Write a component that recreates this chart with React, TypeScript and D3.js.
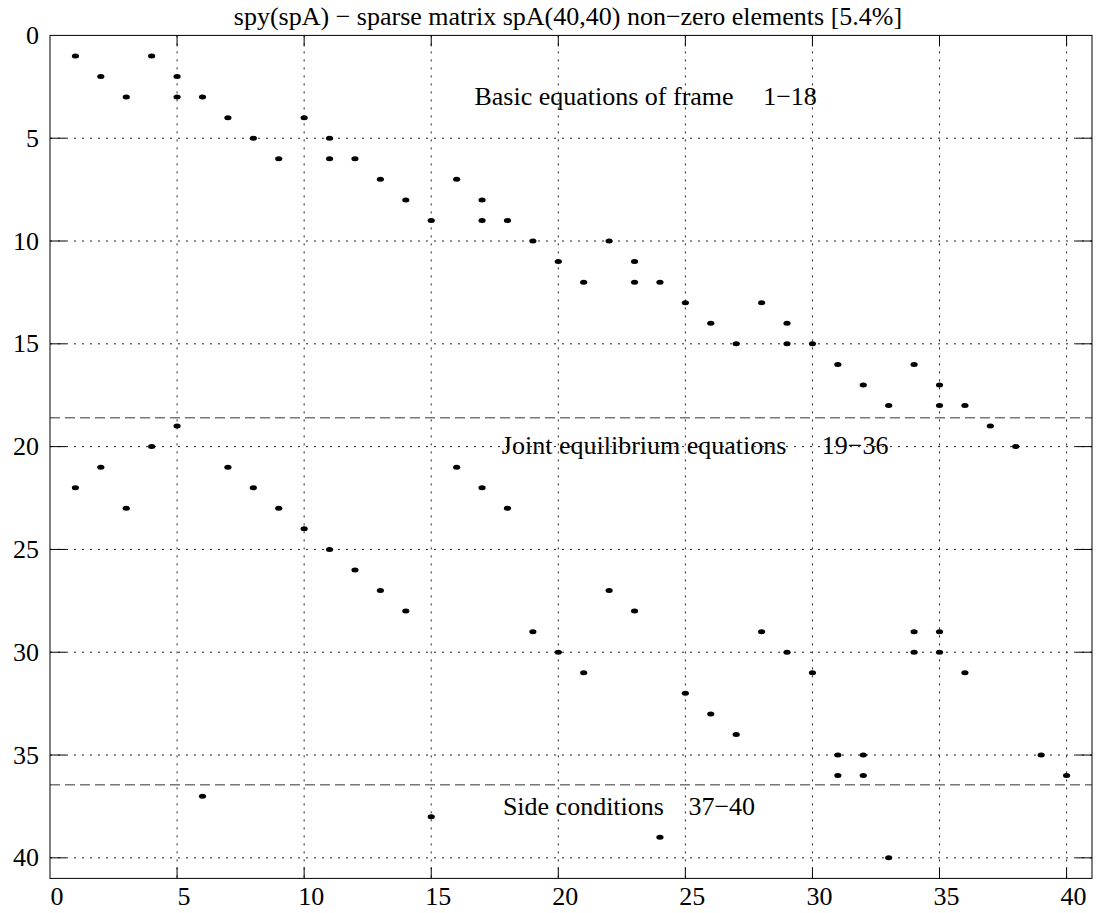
import React from "react";
import * as d3 from "d3";

// ---- data: sparse matrix spA(40,40), non-zero pattern (row -> columns) ----
const rowNumbers = d3.range(1, 41);
const rowColumns: number[][] = [
  [1, 4], [2, 5], [3, 5, 6],
  [7, 10], [8, 11], [9, 11, 12],
  [13, 16], [14, 17], [15, 17, 18],
  [19, 22], [20, 23], [21, 23, 24],
  [25, 28], [26, 29], [27, 29, 30],
  [31, 34], [32, 35], [33, 35, 36],
  [5, 37], [4, 38],
  [2, 7, 16], [1, 8, 17], [3, 9, 18],
  [10], [11], [12],
  [13, 22], [14, 23],
  [19, 28, 34, 35], [20, 29, 34, 35], [21, 30, 36],
  [25], [26], [27],
  [31, 32, 39], [31, 32, 40],
  [6], [15], [24], [33],
];

const tickValues = [0, 5, 10, 15, 20, 25, 30, 35, 40];
const gridValues = [5, 10, 15, 20, 25, 30, 35, 40];

const separatorRows = [18.6, 36.45];

const sectionNames = ["Basic equations of frame", "Joint equilibrium equations", "Side conditions"];
const sectionRanges = ["1\u221218", "19\u221236", "37\u221240"];
const sectionNameX = [16.7, 17.78, 17.82];
const sectionRangeX = [28.06, 30.37, 25.12];
const sectionBaselineY = [3.385, 20.37, 37.92];

const titleText = "spy(spA) \u2212 sparse matrix spA(40,40) non\u2212zero elements [5.4%]";

const W = 1097;
const H = 913;
const left = 50;
const right = 1092;
const top = 35.4;
const bottom = 878.4;

export default function App() {
  const x = d3.scaleLinear().domain([0, 41]).range([left, right]);
  const y = d3.scaleLinear().domain([0, 41]).range([top, bottom]);

  const points: { r: number; c: number }[] = [];
  rowNumbers.forEach((r, i) => rowColumns[i].forEach((c) => points.push({ r, c })));

  const font = "'Liberation Serif', 'Times New Roman', serif";
  const fs = 26;

  return (
    <div style={{ position: "absolute", left: 0, top: 0, width: W, height: H, background: "#fff" }}>
      <svg width={W} height={H} viewBox={`0 0 ${W} ${H}`} style={{ display: "block" }} fontFamily={font}>
        <rect x={0} y={0} width={W} height={H} fill="#fff" />
        {/* grid */}
        <g stroke="#222" strokeWidth={1} strokeDasharray="2,6" fill="none">
          {gridValues.map((v) => (
            <line key={"gx" + v} x1={x(v)} x2={x(v)} y1={y(0)} y2={y(41)} />
          ))}
          {gridValues.map((v) => (
            <line key={"gy" + v} x1={x(0)} x2={x(41)} y1={y(v)} y2={y(v)} />
          ))}
        </g>
        {/* separators */}
        <g stroke="#333" strokeWidth={1} strokeDasharray="10,5" fill="none">
          {separatorRows.map((v) => (
            <line key={"s" + v} x1={x(0)} x2={x(41)} y1={y(v)} y2={y(v)} />
          ))}
        </g>
        {/* ticks */}
        <g stroke="#000" strokeWidth={1}>
          {gridValues.map((v) => (
            <g key={"t" + v}>
              <line x1={x(v)} x2={x(v)} y1={y(41)} y2={y(41) - 11} />
              <line x1={x(v)} x2={x(v)} y1={y(0)} y2={y(0) + 11} />
              <line x1={x(0)} x2={x(0) + 16} y1={y(v)} y2={y(v)} />
              <line x1={x(41)} x2={x(41) - 16} y1={y(v)} y2={y(v)} />
            </g>
          ))}
        </g>
        {/* border */}
        <rect
          x={x(0)}
          y={y(0)}
          width={x(41) - x(0)}
          height={y(41) - y(0)}
          fill="none"
          stroke="#000"
          strokeWidth={1}
        />
        {/* points */}
        <g fill="#000">
          {points.map((p, i) => (
            <ellipse key={i} cx={x(p.c)} cy={y(p.r)} rx={3.6} ry={2.5} />
          ))}
        </g>
        {/* tick labels */}
        <g fontSize={fs} fill="#000">
          {tickValues.map((v) => (
            <text key={"xl" + v} x={x(v) + 7} y={905} textAnchor="middle">
              {v}
            </text>
          ))}
          {tickValues.map((v) => (
            <text key={"yl" + v} x={39} y={y(v) + 8.5} textAnchor="end">
              {v}
            </text>
          ))}
        </g>
        {/* section labels */}
        <g fontSize={fs} fill="#000">
          {sectionNames.map((n, i) => (
            <text key={"sn" + i} x={x(sectionNameX[i])} y={y(sectionBaselineY[i])}>
              {n}
            </text>
          ))}
          {sectionRanges.map((n, i) => (
            <text key={"sr" + i} x={x(sectionRangeX[i])} y={y(sectionBaselineY[i])}>
              {n}
            </text>
          ))}
        </g>
        {/* title */}
        <text x={568} y={25} fontSize={fs} textAnchor="middle" fill="#000">
          {titleText}
        </text>
      </svg>
    </div>
  );
}
